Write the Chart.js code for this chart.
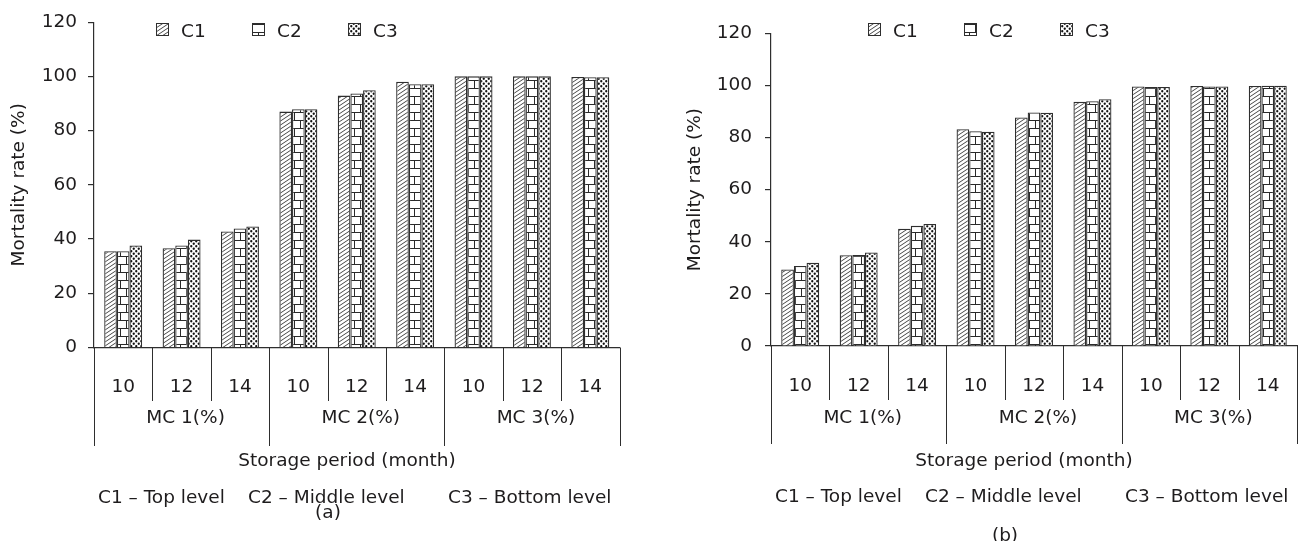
<!DOCTYPE html>
<html>
<head>
<meta charset="utf-8">
<script src="https://cdn.jsdelivr.net/npm/chart.js@4.4.0/dist/chart.umd.min.js"></script>
<style>
  html, body { margin: 0; padding: 0; background: #fff; }
  #wrap { position: relative; width: 1302px; height: 541px; overflow: hidden; }
  canvas { position: absolute; top: 0; }
  #chartA { left: 0; }
  #chartB { left: 651px; }
</style>
</head>
<body>
<div id="wrap">
  <canvas id="chartA" width="651" height="541"></canvas>
  <canvas id="chartB" width="651" height="541"></canvas>
</div>
<script>
const months = ['10', '12', '14', '10', '12', '14', '10', '12', '14'];
const moistureGroups = ['MC 1(%)', 'MC 2(%)', 'MC 3(%)'];
const seriesNames = ['C1', 'C2', 'C3'];
const levelNotes = ['C1 – Top level', 'C2 – Middle level', 'C3 – Bottom level'];
const xTitle = 'Storage period (month)';
const yTitle = 'Mortality rate (%)';
const yMax = 120;
const yStep = 20;

// panel (a)
const aC1 = [35.5, 36.6, 42.8, 87.0, 92.9, 98.0, 100, 100, 99.8];
const aC2 = [35.5, 37.6, 43.9, 87.9, 93.7, 97.1, 100, 100, 99.7];
const aC3 = [37.6, 39.8, 44.6, 87.9, 94.9, 97.1, 100, 100, 99.7];

// panel (b)
const bC1 = [29.4, 34.8, 45.0, 83.2, 87.7, 93.7, 99.6, 99.8, 99.8];
const bC2 = [30.7, 34.9, 46.1, 82.4, 89.6, 93.9, 99.4, 99.6, 99.9];
const bC3 = [31.9, 35.9, 46.8, 82.2, 89.5, 94.7, 99.4, 99.6, 99.9];

const FONT = '"DejaVu Sans", sans-serif';
const FONT_SIZE = 18.5;
const INK = '#1e1c1d';
const LINE = '#2e2e2e';

Chart.defaults.font.family = FONT;
Chart.defaults.font.size = FONT_SIZE;
Chart.defaults.color = INK;

// fill patterns for the three levels
function makePattern(kind) {
    const c = document.createElement('canvas');
    const g = c.getContext('2d');
    if (kind === 'hatch') {
        c.width = 6; c.height = 4;
        g.fillStyle = '#fff'; g.fillRect(0, 0, 6, 4);
        g.strokeStyle = '#333'; g.lineWidth = 0.9;
        for (let k = -1; k <= 1; k++) {
            g.beginPath(); g.moveTo(0, 4 + 4 * k); g.lineTo(6, 4 * k); g.stroke();
        }
    } else if (kind === 'brick') {
        c.width = 12; c.height = 16;
        g.fillStyle = '#fff'; g.fillRect(0, 0, 12, 16);
        g.strokeStyle = '#2a2a2a'; g.lineWidth = 1;
        g.beginPath();
        g.moveTo(0, 0.5); g.lineTo(12, 0.5);
        g.moveTo(0, 8.5); g.lineTo(12, 8.5);
        g.moveTo(6.5, 0.5); g.lineTo(6.5, 8.5);
        g.moveTo(0.5, 8.5); g.lineTo(0.5, 16);
        g.stroke();
    } else {
        c.width = 5; c.height = 5;
        g.fillStyle = '#fff'; g.fillRect(0, 0, 5, 5);
        g.fillStyle = '#111';
        g.beginPath(); g.arc(1.25, 1.25, 1.15, 0, Math.PI * 2); g.fill();
        g.beginPath(); g.arc(3.75, 3.75, 1.15, 0, Math.PI * 2); g.fill();
    }
    return g.createPattern(c, 'repeat');
}
const fills = [makePattern('hatch'), makePattern('brick'), makePattern('dots')];

// draws the two-level category axis, captions and the legend
const groupAxisPlugin = {
    id: 'groupAxis',
    afterDraw(chart, args, opts) {
        const { ctx, chartArea } = chart;
        const x = chart.scales.x;
        const bottom = chartArea.bottom;
        ctx.save();
        ctx.strokeStyle = LINE;
        ctx.lineWidth = 1;
        ctx.beginPath();
        for (let i = 0; i <= months.length; i++) {
            const px = Math.round(x.getPixelForValue(i - 0.5)) + 0.5;
            const len = i % 3 === 0 ? opts.groupLine : opts.tickLine;
            ctx.moveTo(px, bottom);
            ctx.lineTo(px, bottom + len);
        }
        ctx.stroke();

        ctx.font = FONT_SIZE + 'px ' + FONT;
        ctx.fillStyle = INK;
        ctx.textBaseline = 'alphabetic';
        ctx.textAlign = 'center';
        moistureGroups.forEach((name, g) => {
            ctx.fillText(name, x.getPixelForValue(g * 3 + 1) + 4, bottom + opts.groupY);
        });
        ctx.fillText(xTitle, chartArea.left + 253, bottom + opts.titleY);
        ctx.fillText(opts.panel, chartArea.left + 234, bottom + opts.panelY);
        ctx.textAlign = 'left';
        const noteX = [4, 154, 354];
        levelNotes.forEach((t, i) => {
            ctx.fillText(t, chartArea.left + noteX[i], bottom + opts.noteY);
        });

        // legend
        seriesNames.forEach((name, i) => {
            const sx = opts.legendX + i * 96;
            const sy = 23;
            ctx.fillStyle = fills[i];
            ctx.fillRect(sx, sy, 13, 13);
            ctx.strokeStyle = LINE;
            ctx.strokeRect(sx + 0.5, sy + 0.5, 12, 12);
            ctx.fillStyle = INK;
            ctx.fillText(name, sx + 25, 36.7);
        });
        ctx.restore();
    }
};

function buildChart(canvasId, c1, c2, c3, look) {
    const data = {
        labels: months,
        datasets: [c1, c2, c3].map((vals, i) => ({
            label: seriesNames[i],
            data: vals,
            backgroundColor: fills[i],
            borderColor: LINE,
            borderWidth: 1.3,
            categoryPercentage: 0.65,
            barPercentage: 1.0
        }))
    };
    return new Chart(document.getElementById(canvasId).getContext('2d'), {
        type: 'bar',
        data: data,
        plugins: [groupAxisPlugin],
        options: {
            responsive: false,
            animation: false,
            devicePixelRatio: 1,
            layout: { padding: { left: 0, right: look.right, top: look.top, bottom: 0 } },
            plugins: {
                legend: { display: false },
                tooltip: { enabled: false },
                groupAxis: look.axis
            },
            scales: {
                x: {
                    grid: { display: false },
                    border: { color: LINE, width: 1.2 },
                    ticks: { padding: 21, color: INK, maxRotation: 0, autoSkip: false },
                    afterFit: s => { s.height = look.xHeight; }
                },
                y: {
                    min: 0,
                    max: yMax,
                    ticks: { stepSize: yStep, padding: look.tickPad, color: INK },
                    grid: { drawOnChartArea: false, tickLength: 6, color: LINE, lineWidth: 1.2 },
                    border: { color: LINE, width: 1.2 },
                    title: {
                        display: true,
                        text: yTitle,
                        color: INK,
                        padding: { top: look.titlePad, bottom: 0 }
                    },
                    afterFit: s => { s.width = look.yWidth; }
                }
            }
        }
    });
}

const chartA = buildChart('chartA', aC1, aC2, aC3, {
    right: 31.5, top: 19, xHeight: 193.5, yWidth: 94, tickPad: 11, titlePad: 8,
    axis: { panel: '(a)', tickLine: 53.5, groupLine: 98.5, groupY: 75, titleY: 118.5, noteY: 155, panelY: 170, legendX: 156 }
});
const chartB = buildChart('chartB', bC1, bC2, bC3, {
    right: 5, top: 33.3, xHeight: 195, yWidth: 120, tickPad: 13, titlePad: 33,
    axis: { panel: '(b)', tickLine: 54, groupLine: 98, groupY: 77, titleY: 119.5, noteY: 155.7, panelY: 195, legendX: 217 }
});
</script>
</body>
</html>
